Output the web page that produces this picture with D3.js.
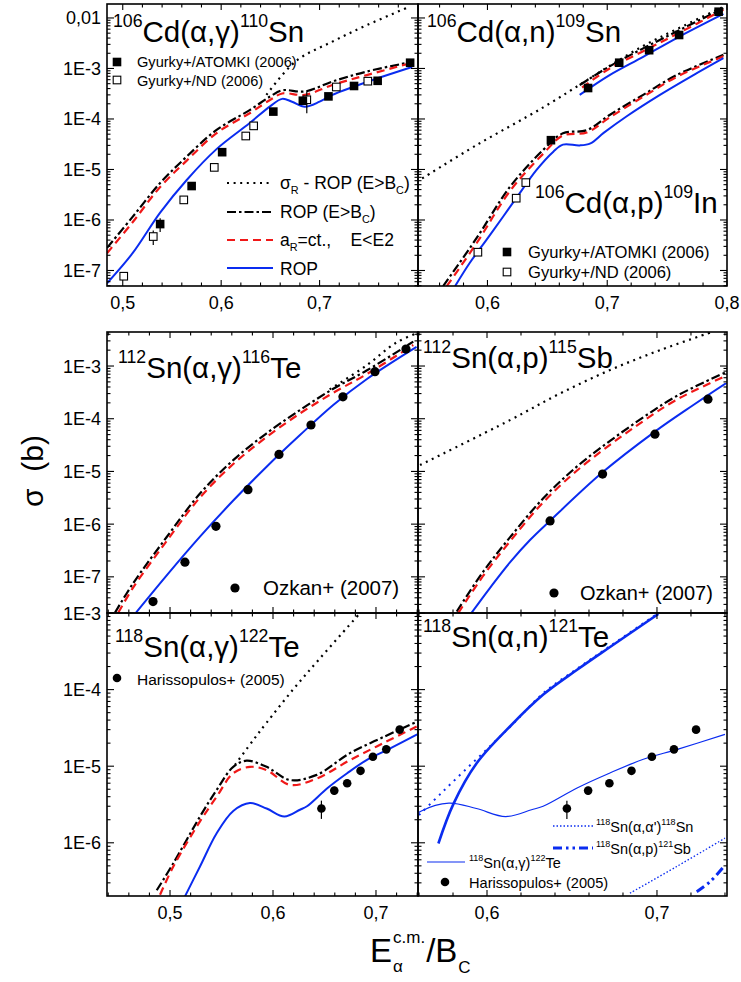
<!DOCTYPE html>
<html><head><meta charset="utf-8">
<script src="https://cdn.jsdelivr.net/npm/d3@7"></script>
<style>body{margin:0;background:#fff}svg{display:block}</style>
</head><body>
<svg id="chart" width="741" height="982"></svg>
<script>
// ---------- data: [E_cm / B_C, cross section in barn] ----------
// 106Cd(a,g)110Sn
const cdAgSigR  = [[0.646,3.0e-4],[0.676,1.4e-3],[0.713,3.4e-3],[0.748,7.2e-3],[0.791,1.66e-2]];
const cdAgRopBc = [[0.484,2.8e-7],[0.510,1.15e-6],[0.538,5.4e-6],[0.565,1.8e-5],[0.595,6.0e-5],[0.629,1.5e-4],[0.650,2.8e-4],[0.662,3.7e-4],[0.685,3.5e-4],[0.713,5.5e-4],[0.748,8.7e-4],[0.794,1.35e-3]];
const cdAgAr    = [[0.484,2.2e-7],[0.510,9.0e-7],[0.538,4.5e-6],[0.565,1.5e-5],[0.595,5.2e-5],[0.629,1.3e-4],[0.650,2.4e-4],[0.662,3.2e-4],[0.685,3.0e-4],[0.713,4.7e-4],[0.748,7.4e-4],[0.794,1.3e-3]];
const cdAgRop   = [[0.484,5.6e-8],[0.510,2.2e-7],[0.538,1.4e-6],[0.565,6.2e-6],[0.595,2.5e-5],[0.629,8.3e-5],[0.650,1.8e-4],[0.662,2.5e-4],[0.672,2.2e-4],[0.685,1.75e-4],[0.700,2.2e-4],[0.713,3.0e-4],[0.748,5.4e-4],[0.794,1.07e-3]];
// [x, sigma, error]
const cdAgAtomki = [[0.538,8.3e-7,2.5e-7],[0.570,4.7e-6,6e-7],[0.601,2.2e-5,2e-6],[0.653,1.4e-4,1e-5],[0.683,2.3e-4,2e-5],[0.709,2.8e-4,2e-5],[0.735,4.5e-4,3e-5],[0.759,5.7e-4,4e-5],[0.792,1.3e-3,8e-5]];
const cdAgNd     = [[0.501,7.7e-8,1e-8],[0.531,4.7e-7,1.5e-7],[0.562,2.5e-6,3e-7],[0.593,1.1e-5,1.5e-6],[0.625,4.6e-5,5e-6],[0.633,7.3e-5,8e-6],[0.687,2.4e-4,1.1e-4],[0.717,4.3e-4,4e-5],[0.749,5.6e-4,4e-5]];

// 106Cd(a,n)109Sn and 106Cd(a,p)109In
const cdSigR    = [[0.5409,5.7e-6],[0.591,3.05e-5],[0.6466,1.7e-4],[0.6856,6.4e-4],[0.7023,1.14e-3],[0.7301,2.8e-3],[0.7579,5.97e-3],[0.7969,1.67e-2]];
const cdAnRopBc = [[0.677,4.7e-4],[0.702,1.1e-3],[0.730,2.5e-3],[0.758,5.4e-3],[0.797,1.55e-2]];
const cdAnAr    = [[0.679,4.2e-4],[0.702,1.0e-3],[0.730,2.2e-3],[0.758,4.8e-3],[0.797,1.45e-2]];
const cdAnRop   = [[0.677,3.0e-4],[0.702,7.4e-4],[0.730,1.7e-3],[0.758,4.0e-3],[0.797,1.2e-2]];
const cdAnAtomki = [[0.684,4.1e-4,0],[0.710,1.3e-3,0],[0.735,2.3e-3,0],[0.760,4.6e-3,0],[0.793,1.33e-2,0]];
const cdApRopBc = [[0.563,4.9e-8],[0.591,4.4e-7],[0.619,4.6e-6],[0.647,2.5e-5],[0.663,5.2e-5],[0.683,6.0e-5],[0.702,1.2e-4],[0.730,3.0e-4],[0.758,7.4e-4],[0.797,1.86e-3]];
const cdApAr    = [[0.566,4.9e-8],[0.591,3.5e-7],[0.619,3.8e-6],[0.647,2.1e-5],[0.663,4.7e-5],[0.683,5.4e-5],[0.702,1.07e-4],[0.730,2.75e-4],[0.758,6.8e-4],[0.797,1.74e-3]];
const cdApRop   = [[0.573,4.9e-8],[0.585,1.39e-7],[0.599,4.0e-7],[0.613,1.16e-6],[0.624,2.7e-6],[0.641,9.8e-6],[0.655,2.25e-5],[0.663,3.1e-5],[0.677,3.0e-5],[0.686,3.3e-5],[0.697,5.3e-5],[0.716,1.12e-4],[0.744,3.0e-4],[0.772,7.4e-4],[0.797,1.6e-3]];
const cdApAtomki = [[0.653,3.8e-5,0]];
const cdApNd     = [[0.592,2.3e-7,0],[0.624,2.7e-6,0],[0.632,5.5e-6,0]];

// 112Sn(a,g)116Te
const sn112AgSigR  = [[0.655,3.6e-4],[0.690,1.0e-3],[0.720,2.8e-3],[0.741,4.3e-3]];
const sn112AgRopBc = [[0.4466,2.1e-8],[0.4643,7.6e-8],[0.4968,5.7e-7],[0.5291,3.8e-6],[0.5614,1.64e-5],[0.5938,5.3e-5],[0.6262,1.46e-4],[0.6585,3.7e-4],[0.6909,8.2e-4],[0.7362,2.9e-3]];
const sn112AgAr    = [[0.4498,2.1e-8],[0.4643,6.3e-8],[0.4968,4.8e-7],[0.5291,3.2e-6],[0.5614,1.38e-5],[0.5938,4.5e-5],[0.6262,1.26e-4],[0.6585,3.1e-4],[0.6909,7.0e-4],[0.7362,2.5e-3]];
const sn112AgRop   = [[0.467,2.1e-8],[0.4968,1.07e-7],[0.5291,5.8e-7],[0.5614,2.8e-6],[0.5938,1.23e-5],[0.6262,4.9e-5],[0.6585,1.82e-4],[0.6909,5.6e-4],[0.7394,2.3e-3]];
const sn112AgOzkan = [[0.4835,3.4e-8],[0.5145,1.9e-7],[0.5446,9.1e-7],[0.5757,4.5e-6],[0.6058,2.1e-5],[0.6369,7.6e-5],[0.6679,2.6e-4],[0.6990,7.8e-4],[0.7291,2.1e-3]];

// 112Sn(a,p)115Sb
const sn112ApSigR  = [[0.5606,1.32e-5],[0.6135,9.4e-5],[0.6429,3.0e-4],[0.6724,8.4e-4],[0.7018,2.0e-3],[0.7331,4.5e-3]];
const sn112ApRopBc = [[0.5822,2.2e-8],[0.5978,1.26e-7],[0.6135,5.6e-7],[0.6331,3.1e-6],[0.6528,1.23e-5],[0.6724,3.8e-5],[0.6919,1.06e-4],[0.7116,2.7e-4],[0.7400,7.5e-4]];
const sn112ApAr    = [[0.5831,2.06e-8],[0.5978,1.05e-7],[0.6135,4.7e-7],[0.6331,2.6e-6],[0.6528,1.03e-5],[0.6724,3.2e-5],[0.6919,9.0e-5],[0.7116,2.3e-4],[0.7400,6.4e-4]];
const sn112ApRop   = [[0.591,2.1e-8],[0.6018,6.2e-8],[0.6135,1.88e-7],[0.6253,5.0e-7],[0.6371,1.16e-6],[0.6678,9.5e-6],[0.6988,5.7e-5],[0.7214,1.82e-4],[0.741,4.8e-4]];
const sn112ApOzkan = [[0.6371,1.15e-6],[0.668,8.9e-6],[0.6988,5.1e-5],[0.730,2.35e-4]];

// 118Sn(a,g)122Te
const sn118AgSigR  = [[0.5631,1.04e-5],[0.5809,2.2e-5],[0.5938,3.7e-5],[0.6197,1.01e-4],[0.6456,2.56e-4],[0.6828,9.4e-4]];
const sn118AgRopBc = [[0.4871,2.4e-7],[0.5032,5.4e-7],[0.5291,2.2e-6],[0.5453,4.9e-6],[0.5614,9.8e-6],[0.5744,1.18e-5],[0.5938,9.8e-6],[0.6165,6.6e-6],[0.6424,7.7e-6],[0.6747,1.48e-5],[0.7071,2.4e-5],[0.7395,3.8e-5]];
const sn118AgAr    = [[0.4903,2.1e-7],[0.5032,4.9e-7],[0.5291,1.9e-6],[0.5453,4.0e-6],[0.5614,8.1e-6],[0.5776,9.8e-6],[0.5938,8.9e-6],[0.6165,5.7e-6],[0.6424,6.9e-6],[0.6747,1.2e-5],[0.7071,2.0e-5],[0.7395,3.3e-5]];
const sn118AgRop   = [[0.5145,2.0e-7],[0.5291,4.9e-7],[0.5453,1.33e-6],[0.5614,2.6e-6],[0.5776,3.3e-6],[0.5938,2.8e-6],[0.611,2.2e-6],[0.6262,2.7e-6],[0.633,3.0e-6],[0.653,5.2e-6],[0.672,8.1e-6],[0.692,1.23e-5],[0.712,1.66e-5],[0.740,2.6e-5]];
const sn118Harisso = [[0.647,2.8e-6,7.5e-7],[0.6595,4.8e-6,6e-7],[0.672,6.0e-6,5e-7],[0.685,8.7e-6,8e-7],[0.697,1.33e-5,8e-7],[0.710,1.66e-5,1e-6],[0.723,3.0e-5,1.5e-6]];

// 118Sn(a,n)121Te and competing channels
const sn118AnRop   = [[0.5714,9.8e-7],[0.5802,3.2e-6],[0.5939,1.09e-5],[0.6135,3.3e-5],[0.6331,8.6e-5],[0.6528,1.8e-4],[0.6724,3.6e-4],[0.7008,9.7e-4]];
const sn118AaUpper = [[0.5600,2.3e-6],[0.5733,4.5e-6],[0.588,9.3e-6],[0.6037,2.0e-5],[0.6175,4.0e-5],[0.6331,9.0e-5],[0.6528,1.86e-4],[0.6724,3.7e-4],[0.7008,1.0e-3]];
const sn118AaLower = [[0.6841,2.2e-7],[0.7116,4.9e-7],[0.740,1.15e-6]];
const sn118ApSb    = [[0.7234,2.3e-7],[0.7312,3.1e-7],[0.740,5.1e-7]];

// tick labels
const yLabelsTop = [[1e-2,"0,01"],[1e-3,"1E-3"],[1e-4,"1E-4"],[1e-5,"1E-5"],[1e-6,"1E-6"],[1e-7,"1E-7"]];
const yLabelsMid = [[1e-3,"1E-3"],[1e-4,"1E-4"],[1e-5,"1E-5"],[1e-6,"1E-6"],[1e-7,"1E-7"]];
const yLabelsBot = [[1e-3,"1E-3"],[1e-4,"1E-4"],[1e-5,"1E-5"],[1e-6,"1E-6"]];
const xLabelsA = [0.5, 0.6, 0.7];
const xLabelsB = [0.6, 0.7, 0.8];
const xLabelsE = [0.5, 0.6, 0.7];
const xLabelsF = [0.6, 0.7];

// ---------- drawing ----------
const FONT = "'Liberation Sans', Arial, Helvetica, sans-serif";
const BLUE = "#0a2cf0", RED = "#f01818", BLACK = "#000";
const svg = d3.select("#chart");
svg.append("rect").attr("width", 741).attr("height", 982).attr("fill", "#fff");

const STY = {
  sigR:  {stroke: BLACK, w: 2.2, dash: "2,4.6"},
  ropBc: {stroke: BLACK, w: 2.2, dash: "9,3,2.5,3"},
  ar:    {stroke: RED,   w: 2.2, dash: "8,5"},
  rop:   {stroke: BLUE,  w: 2.0, dash: null},
  thin:  {stroke: BLUE,  w: 1.2, dash: null},
  thick: {stroke: BLUE,  w: 2.6, dash: null},
  bDotC: {stroke: BLUE,  w: 2.0, dash: "2,5"},
  bDotF: {stroke: BLUE,  w: 1.3, dash: "1.5,2"},
  bDdd:  {stroke: BLUE,  w: 3.0, dash: "9,4,2.5,4,2.5,4"}
};

let clipCount = 0;
function makePanel(cfg) {
  const x = d3.scaleLinear().domain(cfg.xDom).range([cfg.left, cfg.right]);
  const y = d3.scaleLog().domain(cfg.yDom).range([cfg.bottom, cfg.top]);
  const id = "clip" + (clipCount++);
  svg.append("clipPath").attr("id", id).append("rect")
    .attr("x", cfg.left).attr("y", cfg.top)
    .attr("width", cfg.right - cfg.left).attr("height", cfg.bottom - cfg.top);
  const g = svg.append("g");
  const plot = g.append("g").attr("clip-path", `url(#${id})`);
  return {cfg, x, y, g, plot};
}

function drawFrame(p) {
  const c = p.cfg, g = p.g;
  const ticks = g.append("g").attr("stroke", "#000").attr("stroke-width", 1.1);
  // x ticks every 0.02, major at 0.1
  const i0 = Math.ceil(c.xDom[0] / 0.02 - 1e-6), i1 = Math.floor(c.xDom[1] / 0.02 + 1e-6);
  d3.range(i0, i1 + 1).forEach(i => {
    const v = i * 0.02, major = (i % 5 === 0), len = major ? 6 : 3.5, px = p.x(v);
    ticks.append("line").attr("x1", px).attr("x2", px).attr("y1", c.bottom).attr("y2", c.bottom - len);
    ticks.append("line").attr("x1", px).attr("x2", px).attr("y1", c.top).attr("y2", c.top + len);
  });
  // log y ticks
  const k0 = Math.floor(Math.log10(c.yDom[0])), k1 = Math.ceil(Math.log10(c.yDom[1]));
  for (let k = k0; k <= k1; k++) {
    for (let m = 1; m <= 9; m++) {
      const v = m * Math.pow(10, k);
      if (v < c.yDom[0] * 0.999 || v > c.yDom[1] * 1.001) continue;
      const py = p.y(v), len = m === 1 ? 7 : 3.5;
      ticks.append("line").attr("x1", c.left).attr("x2", c.left + len).attr("y1", py).attr("y2", py);
      ticks.append("line").attr("x1", c.right).attr("x2", c.right - len).attr("y1", py).attr("y2", py);
    }
  }
  g.append("rect").attr("x", c.left).attr("y", c.top)
    .attr("width", c.right - c.left).attr("height", c.bottom - c.top)
    .attr("fill", "none").attr("stroke", "#000").attr("stroke-width", 1.6);
}

function curve(p, data, st) {
  const line = d3.line().x(d => p.x(d[0])).y(d => p.y(d[1])).curve(d3.curveCatmullRom.alpha(0.5));
  p.plot.append("path").datum(data).attr("d", line)
    .attr("fill", "none").attr("stroke", st.stroke).attr("stroke-width", st.w)
    .attr("stroke-dasharray", st.dash);
}

function points(p, data, shape) {
  const gp = p.plot.append("g");
  data.forEach(d => {
    if (d[2]) {
      gp.append("line").attr("x1", p.x(d[0])).attr("x2", p.x(d[0]))
        .attr("y1", p.y(d[1] - d[2])).attr("y2", p.y(d[1] + d[2]))
        .attr("stroke", "#000").attr("stroke-width", 1.2);
    }
  });
  data.forEach(d => marker(gp, p.x(d[0]), p.y(d[1]), shape));
}

function marker(g, cx, cy, shape) {
  if (shape === "fsq") {
    g.append("rect").attr("x", cx - 4.3).attr("y", cy - 4.3).attr("width", 8.6).attr("height", 8.6).attr("fill", "#000");
  } else if (shape === "osq") {
    g.append("rect").attr("x", cx - 3.8).attr("y", cy - 3.8).attr("width", 7.6).attr("height", 7.6)
      .attr("fill", "#fff").attr("stroke", "#000").attr("stroke-width", 1.1);
  } else if (shape === "circ") {
    g.append("circle").attr("cx", cx).attr("cy", cy).attr("r", 4.6).attr("fill", "#000");
  } else if (shape === "circS") {
    g.append("circle").attr("cx", cx).attr("cy", cy).attr("r", 4.3).attr("fill", "#000");
  }
}

// text with superscripts / subscripts
function rich(parent, x, y, parts, size, opt) {
  opt = Object.assign({supScale: 0.62, supRise: 0.5, subScale: 0.62, subDrop: 0.28}, opt || {});
  const t = parent.append("text").attr("x", x).attr("y", y)
    .attr("font-family", FONT).attr("font-size", size).attr("fill", "#000")
    .style("white-space", "pre");
  let off = 0;
  parts.forEach(part => {
    const s = typeof part === "string" ? part : part[0];
    const kind = typeof part === "string" ? "" : part[1];
    let target = 0, fs = size;
    if (kind === "sup") { target = -size * opt.supRise; fs = size * opt.supScale; }
    if (kind === "sub") { target = size * opt.subDrop; fs = size * opt.subScale; }
    t.append("tspan").attr("dy", (target - off).toFixed(2)).attr("font-size", fs).text(s);
    off = target;
  });
  return t;
}

function legendLine(g, x1, x2, yy, st) {
  g.append("line").attr("x1", x1).attr("x2", x2).attr("y1", yy).attr("y2", yy)
    .attr("stroke", st.stroke).attr("stroke-width", st.w).attr("stroke-dasharray", st.dash);
}

function yLabels(p, labels) {
  labels.forEach(([v, s]) => {
    p.g.append("text").attr("x", p.cfg.left - 6).attr("y", p.y(v) + 6.5)
      .attr("text-anchor", "end").attr("font-family", FONT).attr("font-size", 18).text(s);
  });
}
function xLabels(p, vals, yy) {
  vals.forEach(v => {
    p.g.append("text").attr("x", p.x(v)).attr("y", yy)
      .attr("text-anchor", "middle").attr("font-family", FONT).attr("font-size", 18)
      .text(d3.format(".1f")(v).replace(".", ","));
  });
}

const TITLE = {supScale: 0.6, supRise: 0.52};
const TS = 29.5;

// ---- panel A: 106Cd(a,g)110Sn ----
const pA = makePanel({left: 107, right: 418, top: 4, bottom: 286, xDom: [0.484, 0.8], yDom: [4.93e-8, 0.0189]});
curve(pA, cdAgSigR, STY.sigR);
curve(pA, cdAgRopBc, STY.ropBc);
curve(pA, cdAgAr, STY.ar);
curve(pA, cdAgRop, STY.rop);
points(pA, cdAgNd, "osq");
points(pA, cdAgAtomki, "fsq");
drawFrame(pA);
yLabels(pA, yLabelsTop);
xLabels(pA, xLabelsA, 309);
rich(pA.g, 113, 42, [["106","sup"], "Cd(α,γ)", ["110","sup"], "Sn"], TS, TITLE);
marker(pA.g, 117, 62, "fsq");
rich(pA.g, 137, 67, ["Gyurky+/ATOMKI (2006)"], 14.6);
marker(pA.g, 117, 80, "osq");
rich(pA.g, 137, 85.5, ["Gyurky+/ND (2006)"], 14.6);
legendLine(pA.g, 227, 273, 183, STY.sigR);
rich(pA.g, 280, 189, ["σ", ["R","sub"], " - ROP (E>B", ["C","sub"], ")"], 17.5);
legendLine(pA.g, 227, 273, 212, STY.ropBc);
rich(pA.g, 280, 218, ["ROP (E>B", ["C","sub"], ")"], 17.5);
legendLine(pA.g, 227, 273, 240, STY.ar);
rich(pA.g, 280, 246, ["a", ["R","sub"], "=ct.,    E<E2"], 17.5);
legendLine(pA.g, 227, 273, 268, STY.rop);
rich(pA.g, 280, 274.5, ["ROP"], 17.5);

// ---- panel B: 106Cd(a,n)109Sn, 106Cd(a,p)109In ----
const pB = makePanel({left: 418, right: 727, top: 4, bottom: 286, xDom: [0.542, 0.8], yDom: [4.93e-8, 0.0189]});
curve(pB, cdSigR, STY.sigR);
curve(pB, cdAnRopBc, STY.ropBc);
curve(pB, cdAnAr, STY.ar);
curve(pB, cdAnRop, STY.rop);
curve(pB, cdApRopBc, STY.ropBc);
curve(pB, cdApAr, STY.ar);
curve(pB, cdApRop, STY.rop);
points(pB, cdApNd, "osq");
points(pB, cdApAtomki, "fsq");
points(pB, cdAnAtomki, "fsq");
drawFrame(pB);
xLabels(pB, xLabelsB, 309);
rich(pB.g, 427, 42, [["106","sup"], "Cd(α,n)", ["109","sup"], "Sn"], TS, TITLE);
rich(pB.g, 535, 213, [["106","sup"], "Cd(α,p)", ["109","sup"], "In"], TS, TITLE);
marker(pB.g, 507, 252, "fsq");
rich(pB.g, 528, 258, ["Gyurky+/ATOMKI (2006)"], 16.6);
marker(pB.g, 507, 272, "osq");
rich(pB.g, 528, 278, ["Gyurky+/ND (2006)"], 16.6);

// ---- panel C: 112Sn(a,g)116Te ----
const pC = makePanel({left: 107, right: 418, top: 332, bottom: 613, xDom: [0.4388, 0.7408], yDom: [2.06e-8, 4.42e-3]});
curve(pC, sn112AgSigR, STY.sigR);
curve(pC, sn112AgRopBc, STY.ropBc);
curve(pC, sn112AgAr, STY.ar);
curve(pC, sn112AgRop, STY.rop);
points(pC, sn112AgOzkan, "circ");
drawFrame(pC);
yLabels(pC, yLabelsMid);
rich(pC.g, 118, 378, [["112","sup"], "Sn(α,γ)", ["116","sup"], "Te"], TS, TITLE);
marker(pC.g, 235, 588, "circ");
rich(pC.g, 263, 595, ["Ozkan+ (2007)"], 20.5);

// ---- panel D: 112Sn(a,p)115Sb ----
const pD = makePanel({left: 418, right: 727, top: 332, bottom: 613, xDom: [0.5594, 0.7412], yDom: [2.06e-8, 4.42e-3]});
curve(pD, sn112ApSigR, STY.sigR);
curve(pD, sn112ApRopBc, STY.ropBc);
curve(pD, sn112ApAr, STY.ar);
curve(pD, sn112ApRop, STY.rop);
points(pD, sn112ApOzkan, "circ");
drawFrame(pD);
rich(pD.g, 423, 368, [["112","sup"], "Sn(α,p)", ["115","sup"], "Sb"], TS, TITLE);
marker(pD.g, 554, 593, "circ");
rich(pD.g, 580, 600, ["Ozkan+ (2007)"], 20);

// ---- panel E: 118Sn(a,g)122Te ----
const pE = makePanel({left: 107, right: 418, top: 613, bottom: 896, xDom: [0.4388, 0.7408], yDom: [2.02e-7, 1e-3]});
curve(pE, sn118AgSigR, STY.sigR);
curve(pE, sn118AgRopBc, STY.ropBc);
curve(pE, sn118AgAr, STY.ar);
curve(pE, sn118AgRop, STY.rop);
points(pE, sn118Harisso, "circS");
drawFrame(pE);
yLabels(pE, yLabelsBot);
xLabels(pE, xLabelsE, 919);
rich(pE.g, 115, 657, [["118","sup"], "Sn(α,γ)", ["122","sup"], "Te"], TS, TITLE);
marker(pE.g, 117, 678, "circS");
rich(pE.g, 137, 685, ["Harissopulos+ (2005)"], 15.5);

// ---- panel F: 118Sn(a,n)121Te ----
const pF = makePanel({left: 418, right: 727, top: 613, bottom: 896, xDom: [0.5594, 0.7412], yDom: [2.02e-7, 1e-3]});
curve(pF, sn118AaUpper, STY.bDotC);
curve(pF, sn118AnRop, STY.thick);
curve(pF, sn118AgRop, STY.thin);
curve(pF, sn118AaLower, STY.bDotF);
curve(pF, sn118ApSb, STY.bDdd);
points(pF, sn118Harisso, "circS");
drawFrame(pF);
xLabels(pF, xLabelsF, 919);
rich(pF.g, 423, 647, [["118","sup"], "Sn(α,n)", ["121","sup"], "Te"], TS, TITLE);
legendLine(pF.g, 553, 593, 826, STY.bDotF);
rich(pF.g, 596, 832, [["118","sup"], "Sn(α,α')", ["118","sup"], "Sn"], 14.5);
legendLine(pF.g, 553, 593, 848, STY.bDdd);
rich(pF.g, 596, 854, [["118","sup"], "Sn(α,p)", ["121","sup"], "Sb"], 14.5);
legendLine(pF.g, 427, 465, 862, STY.thin);
rich(pF.g, 469, 868, [["118","sup"], "Sn(α,γ)", ["122","sup"], "Te"], 14.5);
marker(pF.g, 445, 882, "circS");
rich(pF.g, 469, 888, ["Harissopulos+ (2005)"], 14.6);

// ---- axis titles ----
svg.append("text").attr("transform", "translate(43,471) rotate(-90)")
  .attr("text-anchor", "middle").attr("font-family", FONT).attr("font-size", 30)
  .style("white-space", "pre").text("σ  (b)");

const xt = svg.append("g").attr("font-family", FONT).attr("fill", "#000");
const tE = xt.append("text").attr("x", 370).attr("y", 962).attr("font-size", 33).text("E");
const eW = tE.node().getComputedTextLength();
const tSup = xt.append("text").attr("x", 370 + eW + 1).attr("y", 943).attr("font-size", 17).text("c.m.");
const tSub = xt.append("text").attr("x", 370 + eW + 1).attr("y", 972).attr("font-size", 17).text("α");
const afterSup = 370 + eW + 1 + Math.max(tSup.node().getComputedTextLength(), tSub.node().getComputedTextLength());
const tB = xt.append("text").attr("x", afterSup + 1).attr("y", 962).attr("font-size", 33).text("/B");
xt.append("text").attr("x", afterSup + 1 + tB.node().getComputedTextLength() + 1).attr("y", 973).attr("font-size", 17).text("C");
</script>
</body></html>
